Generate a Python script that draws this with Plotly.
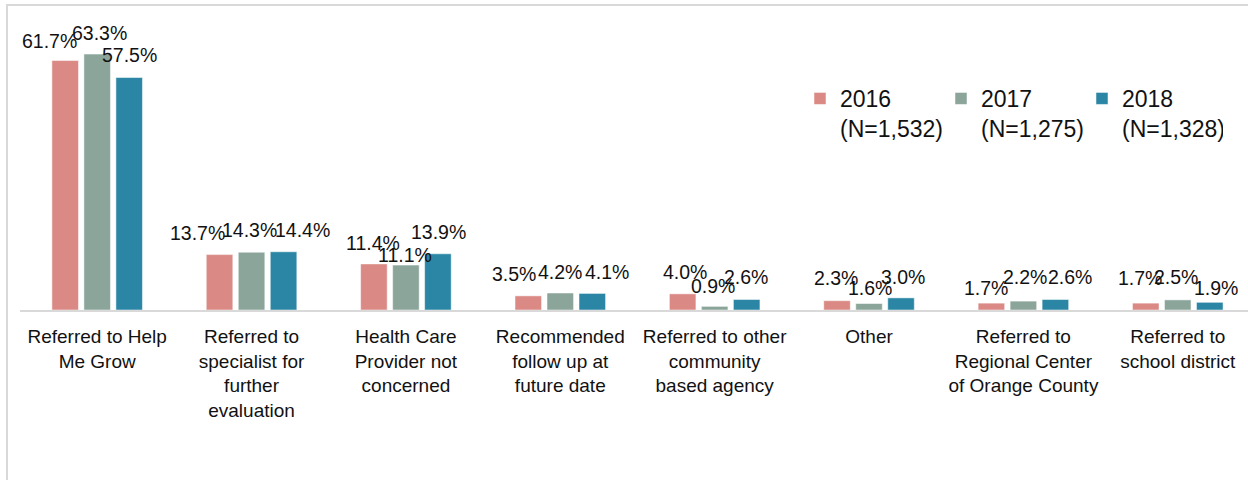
import plotly.graph_objects as go

# Outcome categories and percentage of children by year
categories = [
    "Referred to Help<br>Me Grow",
    "Referred to<br>specialist for<br>further<br>evaluation",
    "Health Care<br>Provider not<br>concerned",
    "Recommended<br>follow up at<br>future date",
    "Referred to other<br>community<br>based agency",
    "Other",
    "Referred to<br>Regional Center<br>of Orange County",
    "Referred to<br>school district",
]
series_names = ["2016<br>(N=1,532)", "2017<br>(N=1,275)", "2018<br>(N=1,328)"]
values_2016 = [61.7, 13.7, 11.4, 3.5, 4.0, 2.3, 1.7, 1.7]
values_2017 = [63.3, 14.3, 11.1, 4.2, 0.9, 1.6, 2.2, 2.5]
values_2018 = [57.5, 14.4, 13.9, 4.1, 2.6, 3.0, 2.6, 1.9]
series_values = [values_2016, values_2017, values_2018]
colors = ["#DA8984", "#8BA59A", "#2A86A4"]

# label nudges (px) so crowded value labels stay readable
label_dx = [
    [-16, -22, -1, -14, 2, -1, -5, -6],
    [2, -2, -1, 0, -2, 1, 2, -2],
    [0, 19, 1, 15, -1, 2, 15, 6],
]
label_dy = [
    [20, 22, 21, 22, 22, 23, 15, 25],
    [21, 22, 10, 21, 20, 16, 24, 23],
    [23, 22, 22, 21, 22, 21, 22, 14],
]

FONT = "Liberation Sans, Arial, sans-serif"
W, H = 1248, 480
ML, MR, MT, MB = 20, 0, 27, 170
x_range = [-0.5, 7.455]
bargap, bargroupgap = 0.378, 0.17

fig = go.Figure()
for name, vals, col in zip(series_names, series_values, colors):
    fig.add_trace(go.Bar(
        x=categories, y=vals, name=name,
        marker=dict(color=col, line=dict(color="rgba(255,255,255,0.5)", width=1)),
        hoverinfo="skip",
    ))

# value labels placed above each bar of the group
cat_px = (W - ML - MR) / (x_range[1] - x_range[0])
slot_px = cat_px * (1 - bargap) / 3
annotations = []
for j, vals in enumerate(series_values):
    for i, v in enumerate(vals):
        annotations.append(dict(
            x=categories[i], y=v, xref="x", yref="y",
            text=f"{v:.1f}%", showarrow=False,
            xshift=(j - 1) * slot_px + label_dx[j][i],
            yshift=label_dy[j][i], yanchor="middle", xanchor="center",
            font=dict(family=FONT, size=19.5, color="#111111"),
        ))

plot_h = H - MT - MB
plot_w = W - ML - MR
# light chart frame around the whole chart area
frame = dict(
    type="rect", xref="paper", yref="paper",
    x0=(7 - ML) / plot_w, x1=1.05,
    y0=-0.8, y1=(H - MB - 5) / plot_h,
    line=dict(color="#D9D9D9", width=2), fillcolor="rgba(0,0,0,0)", layer="below",
)

fig.update_layout(
    width=W, height=H,
    margin=dict(l=ML, r=MR, t=MT, b=MB, pad=0, autoexpand=False),
    paper_bgcolor="white", plot_bgcolor="white",
    barmode="group", bargap=bargap, bargroupgap=bargroupgap,
    font=dict(family=FONT, size=19, color="#111111"),
    xaxis=dict(
        type="category", range=x_range, showline=True, linecolor="#D9D9D9",
        linewidth=2, ticks="", showgrid=False, tickfont=dict(size=19, color="#111111"),
        ticklabelstandoff=8, automargin=False,
    ),
    yaxis=dict(range=[0, 70], visible=False, showgrid=False, zeroline=False),
    showlegend=True,
    legend=dict(
        orientation="h", x=(800 - ML) / plot_w, y=(H - MB - 77) / plot_h,
        xanchor="left", yanchor="top",
        font=dict(size=23, color="#111111", family=FONT),
        valign="top", itemwidth=30, traceorder="normal",
        entrywidth=96, entrywidthmode="pixels", bgcolor="rgba(0,0,0,0)",
    ),
    annotations=annotations,
    shapes=[frame],
)

fig.write_html("out.html")
